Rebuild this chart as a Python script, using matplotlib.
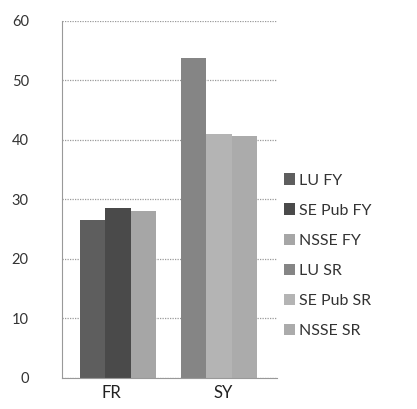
import matplotlib.pyplot as plt
import numpy as np

plt.rcParams['font.family'] = ['Lato', 'DejaVu Sans']

categories = ["FR", "SY"]
series = ["LU FY", "SE Pub FY", "NSSE FY", "LU SR", "SE Pub SR", "NSSE SR"]
fr_values = [26.6, 28.5, 28.0]   # LU FY, SE Pub FY, NSSE FY
sy_values = [53.7, 41.0, 40.6]   # LU SR, SE Pub SR, NSSE SR
colors = ["#5e5e5e", "#4a4a4a", "#a6a6a6", "#858585", "#b4b4b4", "#ababab"]

fig = plt.figure(figsize=(4.17, 4.09), dpi=100)
ax = fig.add_axes([0.149, 0.076, 0.515, 0.873])

width = 0.25
offsets = (np.arange(3) - 1) * width
x = np.arange(len(categories))

handles = []
for j in range(3):
    b = ax.bar(x[0] + offsets[j], fr_values[j], width, color=colors[j],
               label=series[j], zorder=2)
    handles.append(b)
for j in range(3):
    b = ax.bar(x[1] + offsets[j], sy_values[j], width, color=colors[j + 3],
               label=series[j + 3], zorder=2)
    handles.append(b)

ax.set_ylim(0, 60)
ax.set_yticks(range(0, 61, 10))
ax.set_xlim(-0.554, 1.574)
ax.set_xticks(x + np.array([-0.07, 0.04]))
ax.set_xticklabels(categories, fontsize=12, color="#222222")
ax.tick_params(axis="y", labelsize=10.5, colors="#333333", length=0, pad=24)
ax.tick_params(axis="x", length=0, pad=5)

ax.yaxis.grid(True, color="#9a9a9a", linestyle=(0, (1, 1)), linewidth=0.9)
for s in ["top", "right"]:
    ax.spines[s].set_visible(False)
ax.spines["left"].set_color("#999999")
ax.spines["bottom"].set_color("#999999")

ax.legend(handles=handles, loc="center left", bbox_to_anchor=(0.965, 0.342),
          frameon=False, fontsize=11.5, handlelength=0.7, handleheight=0.7,
          handletextpad=0.25, labelspacing=1.0, labelcolor="#333333")

fig.savefig("out.png", dpi=100)
